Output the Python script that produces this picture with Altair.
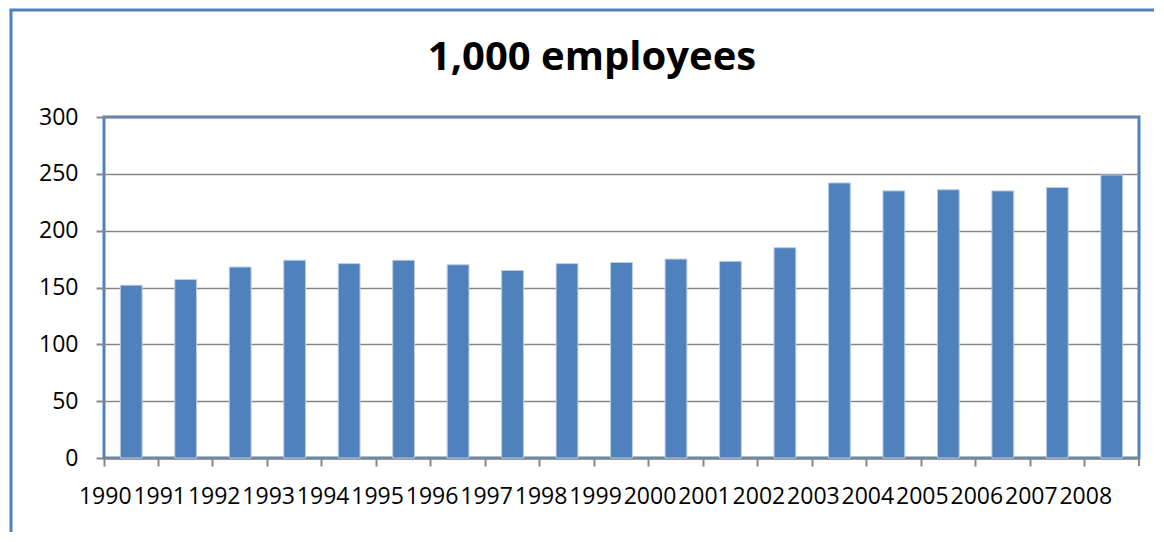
import altair as alt
import pandas as pd

years = [str(y) for y in range(1990, 2009)]
employees = [152, 157, 168, 174, 171, 174, 170, 165, 171, 172, 175, 173, 185,
             242, 235, 236, 235, 238, 249]
title_text = "1,000 employees"

df = pd.DataFrame({"year": years, "value": employees})

BLUE = "#4f81bd"
GRAY = "#868686"
FONT = "Open Sans"

bars = alt.Chart(df).mark_bar(
    color=BLUE, stroke="#b9cde5", strokeWidth=1
).encode(
    x=alt.X("year:N", title=None, sort=years,
            scale=alt.Scale(paddingInner=0.6, paddingOuter=0.3),
            axis=alt.Axis(bandPosition=-0.75, labelAngle=0, labelOverlap=False,
                          labelOffset=-26,
                          labelFontSize=23, labelFont=FONT, labelColor="black",
                          labelPadding=19, tickSize=8, tickColor=GRAY,
                          tickWidth=2, domainColor=GRAY, domainWidth=2,
                          grid=False)),
    y=alt.Y("value:Q", title=None,
            scale=alt.Scale(domain=[0, 300], nice=False),
            axis=alt.Axis(values=[0, 50, 100, 150, 200, 250, 300],
                          labelFontSize=23, labelFont=FONT, labelColor="black",
                          labelPadding=18, tickSize=8, tickColor=GRAY,
                          tickWidth=2, domain=False, gridColor=GRAY,
                          gridWidth=1.5))
)

deco = pd.DataFrame({"k": [0]})
left_line = alt.Chart(deco).mark_rule(color=BLUE, strokeWidth=3).encode(
    x=alt.value(-93), y=alt.value(-107), y2=alt.value(415))
top_line = alt.Chart(deco).mark_rule(color=BLUE, strokeWidth=3).encode(
    y=alt.value(-107), x=alt.value(-94.5), x2=alt.value(1050))
end_tick = alt.Chart(deco).mark_rule(color=GRAY, strokeWidth=2).encode(
    x=alt.value(1035), y=alt.value(341), y2=alt.value(349))
title = alt.Chart(deco).mark_text(
    font=FONT, fontSize=40, fontWeight="bold", color="black",
    align="center", baseline="alphabetic"
).encode(x=alt.value(488), y=alt.value(-47), text=alt.value(title_text))

chart = alt.layer(bars, end_tick, left_line, top_line, title).properties(
    width=1035, height=341,
    padding={"left": 0, "top": 0, "right": 0, "bottom": 0},
).configure_view(stroke=BLUE, strokeWidth=3)

chart.save("out.html", embed_options={"renderer": "svg", "actions": False})
